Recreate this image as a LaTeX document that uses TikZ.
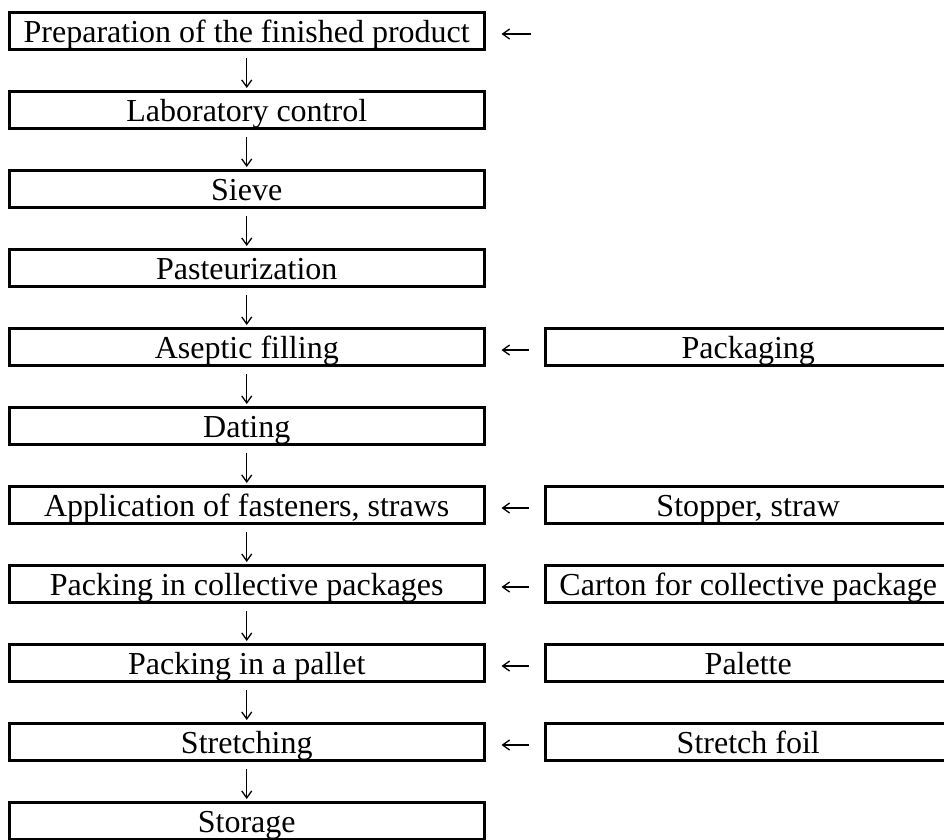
\documentclass[tikz,border=0pt]{standalone}
\usepackage{fontspec}
\setmainfont{Liberation Serif}
\usetikzlibrary{arrows.meta,calc}
\begin{document}
\begin{tikzpicture}[x=1pt,y=-1pt,
  stepbox/.style={draw,line width=3pt,minimum width=474.5pt,minimum height=37pt,
    inner sep=0pt,text height=29pt,text depth=7pt,font=\fontsize{32}{34}\selectfont},
  inbox/.style={stepbox,minimum width=405.5pt},
  arr/.style={line width=1.3pt,-{Straight Barb[length=7pt,width=10pt,line width=1.3pt]}}]
\useasboundingbox (0,0) rectangle (944,839);
% main process chain
\foreach \n/\t [count=\k from 0] in {
  p0/Preparation of the finished product,
  p1/Laboratory control,
  p2/Sieve,
  p3/Pasteurization,
  p4/Aseptic filling,
  p5/Dating,
  p6/{Application of fasteners, straws},
  p7/Packing in collective packages,
  p8/Packing in a pallet,
  p9/Stretching,
  p10/Storage}
  \node[stepbox] (\n) at (246.75,{31+79*\k}) {\t};
% auxiliary inputs
\node[inbox] (m4) at (748.25,{31+79*4}) {Packaging};
\node[inbox] (m6) at (748.25,{31+79*6}) {Stopper, straw};
\node[inbox] (m7) at (748.25,{31+79*7}) {Carton for collective package};
\node[inbox] (m8) at (748.25,{31+79*8}) {Palette};
\node[inbox] (m9) at (748.25,{31+79*9}) {Stretch foil};
% downward flow
\foreach \a/\b in {p0/p1,p1/p2,p2/p3,p3/p4,p4/p5,p5/p6,p6/p7,p7/p8,p8/p9,p9/p10}
  \draw[arr] ([yshift=-7pt]\a.south) -- ([yshift=2pt]\b.north);
% inputs from the right
\coordinate (m0) at (531,34);
\draw[arr] (m0) -- ([xshift=16pt,yshift=-3pt]p0.east);
\foreach \n in {4,6,7,8,9}
  \draw[arr] ([xshift=-15pt,yshift=-3pt]m\n.west) -- ([xshift=16pt,yshift=-3pt]p\n.east);
\end{tikzpicture}
\end{document}
